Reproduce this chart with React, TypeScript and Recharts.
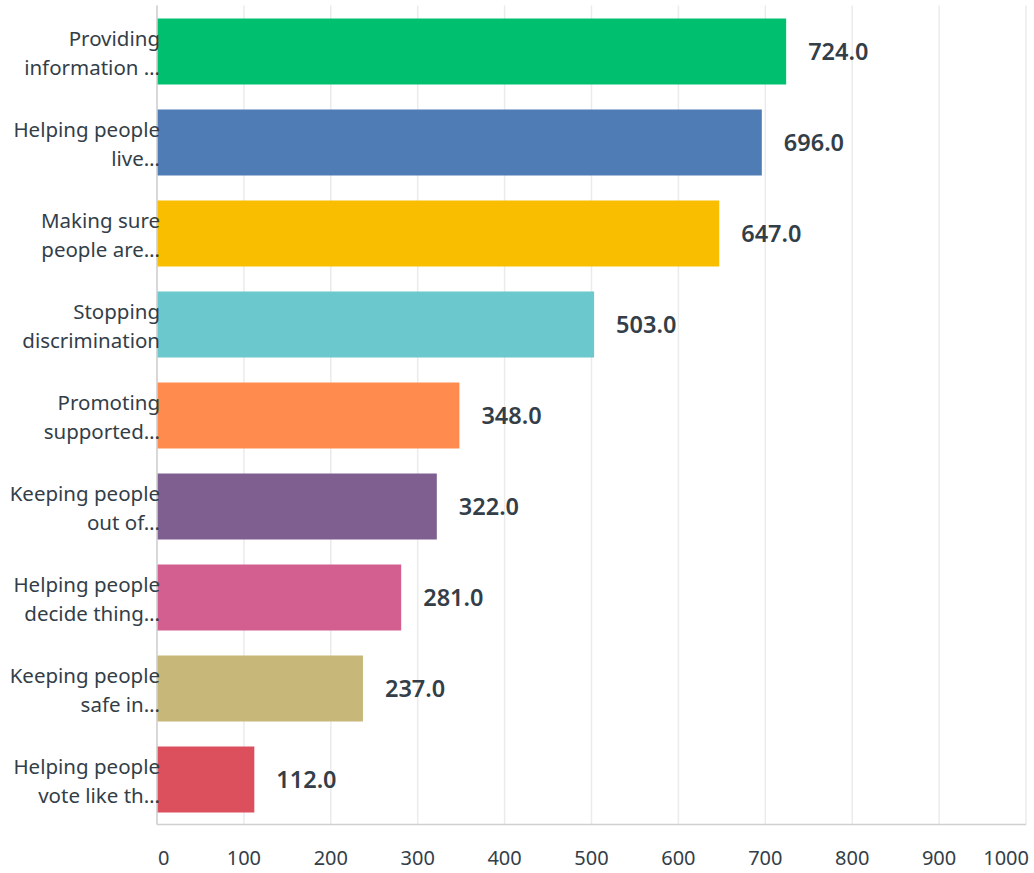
import React from "react";
import { BarChart, Bar, XAxis, YAxis, CartesianGrid, Cell, LabelList } from "recharts";

const categories = [
  "Providing\ninformation …",
  "Helping people\nlive…",
  "Making sure\npeople are…",
  "Stopping\ndiscrimination",
  "Promoting\nsupported…",
  "Keeping people\nout of…",
  "Helping people\ndecide thing…",
  "Keeping people\nsafe in…",
  "Helping people\nvote like th…",
];
const values = [724, 696, 647, 503, 348, 322, 281, 237, 112];
const colors = ["#00BF6F", "#507CB6", "#F9BE00", "#6BC8CD", "#FF8B4F", "#7F5F90", "#D25F90", "#C7B879", "#DC4F5D"];
const xTicks = [0, 100, 200, 300, 400, 500, 600, 700, 800, 900, 1000];

const data = categories.map((name, i) => ({ name, value: values[i] }));

const TEXT = "#333E48";
const FONT = "'Noto Sans', sans-serif";

const YTick = (props: any) => {
  const { x, y, payload } = props;
  const lines = String(payload.value).split("\n");
  const lh = 29;
  const start = -((lines.length - 1) * lh) / 2 + 2;
  return (
    <g>
      {lines.map((l: string, i: number) => (
        <text key={i} x={x + 11} y={y + start + i * lh} dy="0.36em" textAnchor="end" fill={TEXT} fontSize={20.5} fontFamily={FONT}>
          {l}
        </text>
      ))}
    </g>
  );
};

const XTick = (props: any) => {
  const { x, y, payload } = props;
  let anchor: any = "middle";
  let dx = 0;
  if (payload.value === 0) { anchor = "start"; dx = 1; }
  if (payload.value === 1000) { anchor = "end"; dx = 3; }
  return (
    <text x={x + dx} y={y + 25} dy="0.36em" textAnchor={anchor} fill={TEXT} fontSize={20} fontFamily={FONT}>
      {payload.value}
    </text>
  );
};

export default function App() {
  return (
    <div style={{ position: "absolute", left: 0, top: 0 }}>
      <BarChart
        width={1034}
        height={873}
        data={data}
        layout="vertical"
        margin={{ top: 5.5, right: 8, bottom: 0, left: 0 }}
      >
        <CartesianGrid horizontal={false} stroke="#EBEBEB" strokeWidth={1.5} />
        <XAxis
          type="number"
          domain={[0, 1000]}
          ticks={xTicks}
          interval={0}
          tickLine={false}
          axisLine={{ stroke: "#D0D0D0", strokeWidth: 1.5 }}
          tick={<XTick />}
          height={48.5}
        />
        <YAxis
          type="category"
          dataKey="name"
          width={157}
          tickLine={false}
          axisLine={{ stroke: "#D0D0D0", strokeWidth: 1.5 }}
          tick={<YTick />}
          interval={0}
        />
        <Bar dataKey="value" barSize={66} isAnimationActive={false}>
          {data.map((d, i) => (
            <Cell key={i} fill={colors[i]} />
          ))}
          <LabelList
            dataKey="value"
            position="right"
            offset={22}
            formatter={(v: any) => Number(v).toFixed(1)}
            fill={TEXT}
            fontSize={23.5}
            fontWeight={600}
            fontFamily={FONT}
          />
        </Bar>
      </BarChart>
    </div>
  );
}
